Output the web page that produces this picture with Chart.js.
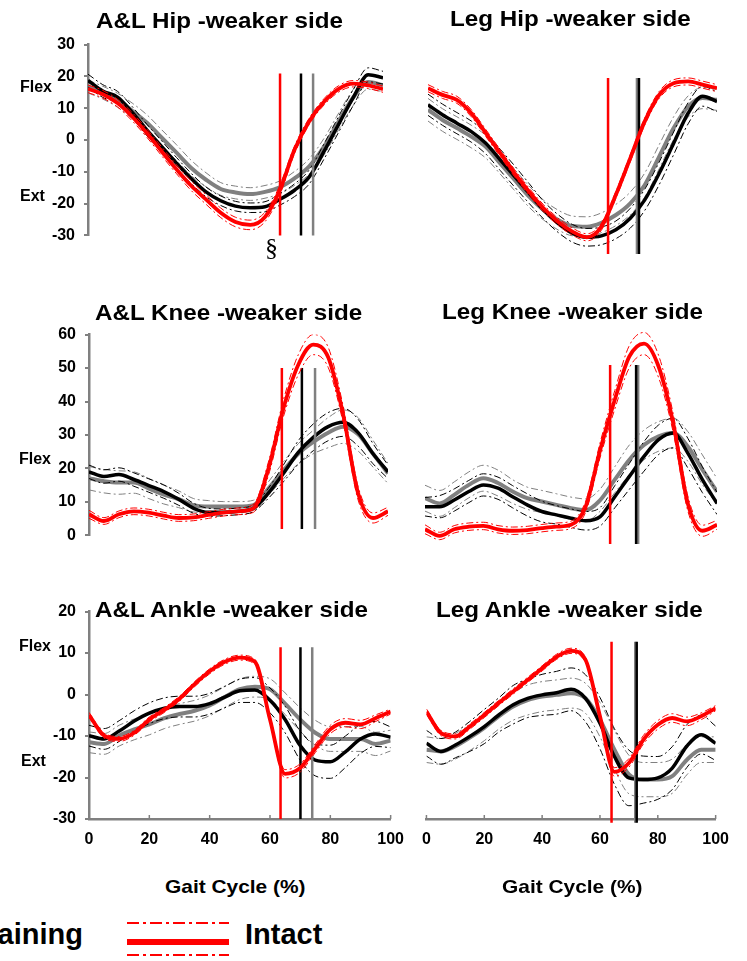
<!DOCTYPE html>
<html>
<head>
<meta charset="utf-8">
<script src="https://cdn.jsdelivr.net/npm/chart.js@4.4.1/dist/chart.umd.min.js"></script>
<style>
  body { margin: 0; background: #fff; width: 747px; height: 961px; overflow: hidden; position: relative;
         font-family: "Liberation Sans", Arial, sans-serif; }
  .txt { position: absolute; white-space: nowrap; line-height: 1; font-weight: bold; color: #000; transform-origin: 0 0; }
  .box { position: absolute; }
</style>
</head>
<body>
<script>
// gait cycle sample points (%)
const gait = [0, 5, 10, 15, 20, 25, 30, 35, 40, 45, 50, 55, 60, 65, 70, 75, 80, 85, 90, 95, 100];

// A&L hip (deg)
const alHipIntact = [16.1, 14.4, 11.6, 7.3, 2.1, -3.6, -9.2, -14.4, -18.7, -22.9, -25.8, -26.7, -24.2, -15.8, -3.1, 5.9, 12.0, 16.1, 17.7, 17.2, 16.0];
const alHipPre    = [18.7, 15.4, 13.5, 8.7, 3.1, -2.1, -7.3, -12.1, -16.3, -19.1, -20.8, -21.3, -21.0, -18.7, -15.8, -11.6, -3.6, 5.0, 13.5, 20.5, 19.6];
const alHipPost   = [16.8, 14.9, 12.5, 9.2, 5.4, 0.7, -4.0, -8.8, -12.5, -15.4, -16.5, -17.0, -16.3, -14.9, -12.1, -8.3, -2.1, 5.9, 13.5, 18.2, 17.2];
const alHipIntactSd = [1.2, 1.2, 1.2, 1.3, 1.3, 1.4, 1.4, 1.5, 1.5, 1.5, 1.5, 1.5, 1.5, 1.5, 1.2, 1.0, 1.0, 1.0, 1.0, 1.0, 1.0];
const alHipPreSd    = [2.0, 2.0, 1.8, 1.8, 1.8, 1.8, 1.8, 1.6, 1.5, 1.5, 1.5, 1.5, 1.6, 1.8, 2.0, 2.2, 2.4, 2.5, 2.5, 2.2, 2.0];
const alHipPostSd   = [2.0, 2.0, 2.2, 2.4, 2.5, 2.5, 2.5, 2.4, 2.2, 2.0, 2.0, 2.0, 2.0, 2.0, 2.2, 2.4, 2.6, 2.6, 2.5, 2.2, 2.0];

// Leg hip
const legHipIntact = [15.8, 13.9, 12.5, 8.7, 3.1, -2.6, -8.3, -13.5, -18.2, -22.0, -24.8, -26.4, -23.4, -14.4, -4.0, 6.4, 13.9, 17.2, 17.7, 16.8, 15.8];
const legHipPre    = [11.1, 8.3, 5.9, 3.5, 0.2, -4.5, -9.2, -14.0, -18.7, -22.5, -25.3, -26.4, -26.0, -24.3, -21.0, -15.8, -8.3, 0.2, 8.7, 13.5, 12.0];
const legHipPost   = [9.7, 6.8, 4.5, 2.1, -0.8, -5.5, -10.2, -14.9, -18.7, -21.5, -23.2, -23.4, -22.3, -20.1, -16.8, -11.6, -3.6, 4.5, 10.6, 13.0, 12.5];
const legHipIntactSd = [1.0, 1.0, 1.0, 1.0, 1.0, 1.0, 1.0, 1.0, 1.0, 1.0, 1.0, 1.0, 1.0, 1.0, 1.0, 1.0, 1.0, 1.0, 1.0, 1.0, 1.0];
const legHipPreSd    = [3.0, 3.0, 3.0, 3.0, 3.0, 3.0, 3.0, 2.8, 2.5, 2.5, 2.5, 2.5, 2.5, 2.5, 2.8, 3.0, 3.2, 3.2, 3.0, 2.8, 2.8];
const legHipPostSd   = [3.2, 3.2, 3.2, 3.2, 3.2, 3.0, 3.0, 3.0, 2.8, 2.8, 2.8, 2.8, 2.8, 3.0, 3.2, 3.4, 3.4, 3.2, 3.0, 3.0, 3.0];

// A&L knee
const alKneeIntact = [6.3, 4.3, 6.3, 7.2, 6.8, 5.9, 5.2, 5.4, 6.1, 6.8, 7.2, 8.1, 19.9, 37.9, 51.0, 57.0, 53.2, 36.1, 12.6, 5.2, 7.2];
const alKneePre    = [19.0, 17.6, 18.2, 16.7, 14.9, 13.1, 10.8, 8.1, 6.9, 6.9, 7.2, 8.1, 12.6, 18.5, 24.8, 29.3, 32.5, 33.8, 30.7, 24.4, 19.0];
const alKneePost   = [17.1, 16.2, 15.8, 15.8, 14.0, 12.2, 10.8, 9.0, 8.6, 8.6, 8.6, 9.0, 14.0, 19.4, 24.4, 27.9, 30.7, 32.5, 30.2, 24.4, 18.5];
const alKneeIntactSd = [1.2, 1.0, 1.0, 1.0, 1.0, 1.0, 1.0, 1.0, 1.0, 1.0, 1.0, 1.2, 2.0, 2.5, 3.0, 3.0, 3.0, 2.5, 2.0, 1.5, 1.2];
const alKneePreSd    = [2.0, 2.0, 2.0, 2.0, 2.0, 2.0, 1.8, 1.5, 1.2, 1.0, 1.0, 1.0, 1.5, 2.5, 3.5, 4.0, 4.2, 4.2, 4.0, 3.0, 2.0];
const alKneePostSd   = [3.5, 3.5, 3.5, 3.2, 3.0, 2.8, 2.5, 2.0, 1.8, 1.5, 1.5, 1.5, 2.0, 2.5, 3.0, 3.5, 4.5, 5.0, 5.0, 4.0, 3.0];

// Leg knee
const legKneeIntact = [5.6, 3.8, 5.6, 6.3, 6.5, 5.6, 5.2, 5.4, 5.9, 6.3, 6.8, 11.7, 27.1, 40.6, 52.3, 55.8, 49.6, 34.3, 12.6, 5.2, 6.8];
const legKneePre    = [11.7, 11.7, 13.5, 15.8, 17.6, 16.7, 14.4, 12.2, 10.4, 9.5, 8.6, 7.9, 9.0, 14.4, 19.9, 25.3, 29.8, 31.6, 26.2, 19.0, 12.6];
const legKneePost   = [14.0, 12.6, 14.9, 17.6, 19.4, 18.1, 15.8, 14.0, 13.1, 12.2, 11.3, 10.8, 13.5, 19.0, 24.4, 28.4, 30.7, 31.6, 28.0, 21.7, 15.8];
const legKneeIntactSd = [1.2, 1.0, 1.0, 1.0, 1.0, 1.0, 1.0, 1.0, 1.0, 1.0, 1.0, 1.5, 2.0, 2.5, 3.0, 3.0, 3.0, 2.5, 2.0, 1.5, 1.2];
const legKneePreSd    = [2.5, 3.0, 3.0, 3.0, 3.0, 3.0, 3.0, 3.0, 2.8, 2.5, 2.5, 2.5, 2.5, 3.0, 3.5, 4.0, 4.0, 4.0, 4.0, 3.5, 3.0];
const legKneePostSd   = [3.5, 3.5, 3.5, 3.5, 3.5, 3.5, 3.2, 3.0, 3.0, 3.0, 3.0, 3.0, 3.0, 3.5, 4.0, 4.0, 4.0, 4.0, 4.0, 4.0, 3.5];

// A&L ankle
const alAnkleIntact = [-4.9, -9.9, -10.7, -9.2, -6.0, -3.7, -1.0, 2.5, 5.6, 7.9, 8.9, 7.9, -6.0, -19.1, -17.7, -13.0, -8.4, -6.8, -7.2, -5.7, -4.1];
const alAnklePre    = [-9.9, -10.7, -8.8, -6.4, -4.5, -3.3, -2.9, -2.9, -2.2, -0.6, 0.9, 1.1, -1.4, -6.0, -12.3, -15.8, -16.2, -13.8, -10.7, -9.5, -10.3];
const alAnklePost   = [-11.5, -11.9, -9.9, -8.4, -7.2, -5.7, -4.7, -3.9, -2.6, -0.6, 1.3, 1.9, 1.3, -2.2, -6.0, -9.2, -10.7, -10.7, -10.7, -11.9, -11.1];
const alAnkleIntactSd = [0.6, 0.6, 0.6, 0.6, 0.6, 0.6, 0.6, 0.6, 0.6, 0.6, 0.6, 0.6, 0.8, 1.0, 1.0, 1.0, 1.0, 1.0, 1.0, 0.8, 0.6];
const alAnklePreSd    = [2.5, 2.5, 2.5, 2.5, 2.5, 2.5, 2.5, 2.5, 2.5, 2.6, 2.8, 3.0, 3.0, 3.2, 3.5, 3.8, 4.0, 3.8, 3.5, 3.0, 2.5];
const alAnklePostSd   = [2.5, 2.5, 2.5, 2.5, 2.5, 2.5, 2.5, 2.5, 2.5, 2.5, 2.5, 2.5, 2.5, 2.6, 2.8, 3.0, 3.0, 3.0, 3.0, 2.8, 2.5];

// Leg ankle
const legAnkleIntact = [-4.9, -9.9, -10.7, -8.4, -5.7, -2.9, -0.2, 2.5, 5.2, 7.9, 9.3, 7.2, -6.0, -19.0, -16.9, -11.5, -8.0, -6.4, -7.2, -6.0, -4.1];
const legAnklePre    = [-12.3, -14.2, -12.7, -10.7, -8.4, -5.7, -3.3, -1.8, -1.0, -0.5, 0.3, -1.8, -7.6, -15.4, -20.4, -20.8, -20.4, -18.1, -13.0, -10.3, -12.3];
const legAnklePost   = [-13.8, -14.2, -13.0, -11.0, -8.7, -6.0, -3.7, -2.2, -1.4, -1.0, -0.6, -1.8, -6.8, -13.8, -19.6, -20.8, -20.8, -20.0, -16.2, -13.8, -13.8];
const legAnkleIntactSd = [0.6, 0.6, 0.6, 0.6, 0.6, 0.6, 0.6, 0.6, 0.6, 0.6, 0.6, 0.6, 0.8, 1.0, 1.0, 1.0, 1.0, 1.0, 1.0, 0.8, 0.6];
const legAnklePreSd    = [3.0, 3.0, 3.0, 3.5, 4.0, 4.0, 4.5, 4.5, 4.8, 5.0, 5.0, 5.5, 6.0, 6.5, 6.5, 5.5, 5.0, 5.0, 5.0, 4.5, 4.0];
const legAnklePostSd   = [3.0, 3.0, 3.0, 3.0, 3.0, 3.0, 3.2, 3.5, 3.5, 3.5, 3.5, 3.5, 4.0, 4.5, 4.5, 4.0, 4.0, 4.0, 3.5, 3.0, 3.0];

// toe-off markers (% gait cycle): intact, pre, post
const alHipToeOff    = [65.1, 72.2, 76.3];
const legHipToeOff   = [62.3, 73.0, 72.3];
const alKneeToeOff   = [64.5, 71.2, 75.6];
const legKneeToeOff  = [63.4, 72.3, 73.0];
const alAnkleToeOff  = [63.5, 70.1, 74.0];
const legAnkleToeOff = [64.0, 72.7, 72.2];

// y axis: min, max, step
const yTicksHip = [-30, 30, 10];
const yTicksKnee = [0, 60, 10];
const yTicksAnkle = [-30, 20, 10];

const RED = "#ff0000", BLACK = "#000000", GRAY = "#808080";
const FONT = '"Liberation Sans", Arial, sans-serif';
Chart.defaults.font.family = FONT;
Chart.defaults.animation = false;

function addText(str, x, baseline, size, opts) {
  opts = opts || {};
  const d = document.createElement("div");
  d.className = "txt";
  d.textContent = str;
  d.style.fontSize = size + "px";
  d.style.top = (baseline - 0.8465 * size) + "px";
  if (opts.right != null) d.style.right = (747 - opts.right) + "px";
  else d.style.left = x + "px";
  if (opts.sx) d.style.transform = "scaleX(" + opts.sx + ")";
  if (opts.family) { d.style.fontFamily = opts.family; d.style.fontWeight = "normal"; }
  document.body.appendChild(d);
}

function curve(label, ys, color, width, dash) {
  return {
    label: label,
    data: gait.map((x, i) => ({ x: x, y: ys[i] })),
    borderColor: color, borderWidth: width, borderDash: dash || [],
    pointRadius: 0, cubicInterpolationMode: "monotone", fill: false
  };
}

function band(mean, sd, sign) {
  return mean.map((m, i) => +(m + sign * sd[i]).toFixed(2));
}

function vline(x, y0, y1, color, width) {
  return { label: "toe-off", data: [{ x: x, y: y0 }, { x: x, y: y1 }], borderColor: color,
           borderWidth: width, pointRadius: 0, clip: false };
}

const innerTicks = {
  id: "innerTicks",
  afterDraw(chart) {
    const sx = chart.scales.x;
    if (!sx.options.display) return;
    const ctx = chart.ctx;
    ctx.save();
    ctx.strokeStyle = GRAY;
    ctx.lineWidth = 1.5;
    sx.ticks.forEach(t => {
      const px = sx.getPixelForValue(t.value);
      ctx.beginPath();
      ctx.moveTo(px, sx.top);
      ctx.lineTo(px, sx.top - 4);
      ctx.stroke();
    });
    ctx.restore();
  }
};

const SD_DASH = [7, 3, 2, 3];

function makePanel(p) {
  const yW = p.showY ? 60 : 0, xH = p.showX ? 40 : 0;
  const padL = 10, padT = 12, padR = 22, padB = 4;
  const left = p.rect.l - yW - padL, top = p.rect.t - padT;
  const w = p.rect.r + padR - left, h = p.rect.b + xH + padB - top;
  const div = document.createElement("div");
  div.className = "box";
  div.style.left = left + "px"; div.style.top = top + "px";
  div.style.width = w + "px"; div.style.height = h + "px";
  const cv = document.createElement("canvas");
  div.appendChild(cv);
  document.body.appendChild(div);

  const [intact, pre, post] = p.mean;
  const [sdI, sdPre, sdPost] = p.sd;
  const [toI, toPre, toPost] = p.toeOff;
  const datasets = [
    curve("Intact", intact, RED, 3.8),
    curve("Intact +SD", band(intact, sdI, 1), RED, 1, SD_DASH),
    curve("Intact -SD", band(intact, sdI, -1), RED, 1, SD_DASH),
    vline(toI, p.vl[0], p.vl[1], RED, 2.5),
    vline(toPre, p.vl[0], p.vl[1], BLACK, 2.5),
    vline(toPost, p.vl[0], p.vl[1], GRAY, 2.5),
    curve("Pre", pre, BLACK, 3.5),
    curve("Pre +SD", band(pre, sdPre, 1), BLACK, 1, SD_DASH),
    curve("Pre -SD", band(pre, sdPre, -1), BLACK, 1, SD_DASH),
    curve("Post", post, GRAY, 4),
    curve("Post +SD", band(post, sdPost, 1), GRAY, 1, SD_DASH),
    curve("Post -SD", band(post, sdPost, -1), GRAY, 1, SD_DASH)
  ];

  const tickFont = { size: 16, weight: "bold", family: FONT };
  const xScale = {
    type: "linear", min: 0, max: 100, display: p.showX,
    grid: { drawOnChartArea: false, drawTicks: false },
    border: { display: true, color: GRAY, width: 2.5 },
    ticks: { stepSize: 20, padding: 11, font: tickFont, color: "#000", maxRotation: 0, autoSkip: false }
  };
  if (p.showX) xScale.afterFit = s => { s.height = xH; };
  const yScale = {
    type: "linear", min: p.yTicks[0], max: p.yTicks[1], display: p.showY,
    grid: { drawOnChartArea: false, tickLength: 4, color: GRAY, lineWidth: 2 },
    border: { display: true, color: GRAY, width: 2.5 },
    ticks: { stepSize: p.yTicks[2], padding: 9, font: tickFont, color: "#000" }
  };
  if (p.showY) yScale.afterFit = s => { s.width = yW; };

  new Chart(cv, {
    type: "line",
    data: { datasets: datasets },
    options: {
      responsive: true, maintainAspectRatio: false,
      layout: { padding: { left: padL, top: padT, right: padR, bottom: padB } },
      plugins: { legend: { display: false }, tooltip: { enabled: false } },
      scales: { x: xScale, y: yScale }
    },
    plugins: [innerTicks]
  });
}

const panels = [
  { rect: { l: 88, r: 383, t: 38, b: 250 }, yTicks: yTicksHip, showY: true, showX: false,
    mean: [alHipIntact, alHipPre, alHipPost], sd: [alHipIntactSd, alHipPreSd, alHipPostSd],
    toeOff: alHipToeOff, vl: [20.9, -30] },
  { rect: { l: 428, r: 717, t: 38, b: 250 }, yTicks: yTicksHip, showY: false, showX: false,
    mean: [legHipIntact, legHipPre, legHipPost], sd: [legHipIntactSd, legHipPreSd, legHipPostSd],
    toeOff: legHipToeOff, vl: [18.7, -32] },
  { rect: { l: 89, r: 388, t: 328, b: 550 }, yTicks: yTicksKnee, showY: true, showX: false,
    mean: [alKneeIntact, alKneePre, alKneePost], sd: [alKneeIntactSd, alKneePreSd, alKneePostSd],
    toeOff: alKneeToeOff, vl: [50, 1.9] },
  { rect: { l: 425, r: 717, t: 328, b: 550 }, yTicks: yTicksKnee, showY: false, showX: false,
    mean: [legKneeIntact, legKneePre, legKneePost], sd: [legKneeIntactSd, legKneePreSd, legKneePostSd],
    toeOff: legKneeToeOff, vl: [50, 1.6] },
  { rect: { l: 89, r: 393, t: 605, b: 819 }, yTicks: yTicksAnkle, showY: true, showX: true,
    mean: [alAnkleIntact, alAnklePre, alAnklePost], sd: [alAnkleIntactSd, alAnklePreSd, alAnklePostSd],
    toeOff: alAnkleToeOff, vl: [11.4, -30] },
  { rect: { l: 421, r: 718, t: 605, b: 819 }, yTicks: yTicksAnkle, showY: false, showX: true,
    mean: [legAnkleIntact, legAnklePre, legAnklePost], sd: [legAnkleIntactSd, legAnklePreSd, legAnklePostSd],
    toeOff: legAnkleToeOff, vl: [11.4, -30.9] }
];
panels.forEach(makePanel);

// titles and labels
addText("A&L Hip -weaker side", 96, 28.5, 22, { sx: 1.1 });
addText("Leg Hip -weaker side", 450, 27, 22, { sx: 1.1 });
addText("A&L Knee -weaker side", 95, 320.5, 22, { sx: 1.1 });
addText("Leg Knee -weaker side", 442, 320, 22, { sx: 1.1 });
addText("A&L Ankle -weaker side", 95, 618, 22, { sx: 1.1 });
addText("Leg Ankle -weaker side", 436, 618, 22, { sx: 1.1 });

addText("Flex", 20, 92.5, 16);
addText("Ext", 20, 201.5, 16);
addText("Flex", 19, 464.5, 16);
addText("Flex", 19, 651.5, 16);
addText("Ext", 21, 766.5, 16);

addText("\u00a7", 265, 257, 26, { family: '"Liberation Serif", "Times New Roman", serif' });

addText("Gait Cycle (%)", 165, 893, 19, { sx: 1.1 });
addText("Gait Cycle (%)", 502, 893, 19, { sx: 1.1 });

addText("Training", 0, 945, 29, { right: 83 });
addText("Intact", 245, 945, 29);

// legend line sample
const lg = document.createElement("canvas");
lg.width = 120; lg.height = 55;
lg.style.position = "absolute"; lg.style.left = "120px"; lg.style.top = "910px";
document.body.appendChild(lg);
const lc = lg.getContext("2d");
lc.strokeStyle = RED;
lc.lineWidth = 6;
lc.beginPath(); lc.moveTo(7, 32); lc.lineTo(109, 32); lc.stroke();
lc.lineWidth = 2;
lc.setLineDash([12, 4, 3, 4]);
[13, 45].forEach(y => { lc.beginPath(); lc.moveTo(7, y); lc.lineTo(109, y); lc.stroke(); });
</script>
</body>
</html>
